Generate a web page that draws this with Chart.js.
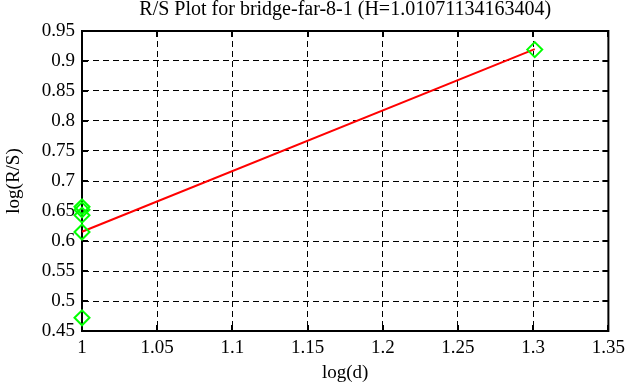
<!DOCTYPE html>
<html>
<head>
<meta charset="utf-8">
<script src="https://cdn.jsdelivr.net/npm/chart.js@4/dist/chart.umd.min.js"></script>
<style>
  html, body { margin: 0; padding: 0; background: #ffffff; }
  #wrap { width: 631px; height: 387px; }
</style>
</head>
<body>
<div id="wrap"><canvas id="c" width="631" height="387"></canvas></div>
<script>
// ---- data ----
const titleText = 'R/S Plot for bridge-far-8-1 (H=1.01071134163404)';
const logD  = [1, 1, 1, 1, 1, 1.30103];
const logRS = [0.657, 0.652, 0.643, 0.615, 0.472, 0.919];
const fitX  = [1, 1.30103];
const fitY  = [0.6155, 0.9197];
const xTicks = [1, 1.05, 1.1, 1.15, 1.2, 1.25, 1.3, 1.35];
const yTicks = [0.45, 0.5, 0.55, 0.6, 0.65, 0.7, 0.75, 0.8, 0.85, 0.9, 0.95];
const xTickLabels = ['1', '1.05', '1.1', '1.15', '1.2', '1.25', '1.3', '1.35'];
const yTickLabels = ['0.45', '0.5', '0.55', '0.6', '0.65', '0.7', '0.75', '0.8', '0.85', '0.9', '0.95'];

const FONT = 'Liberation Serif, Times New Roman, serif';

const points = logD.map((x, i) => ({ x: x, y: logRS[i] }));
const fitLine = fitX.map((x, i) => ({ x: x, y: fitY[i] }));

const frame = {
  id: 'frame',
  beforeDatasetsDraw(chart) {
    const { ctx, chartArea: a, scales } = chart;
    ctx.save();
    ctx.strokeStyle = '#000';
    ctx.lineWidth = 2;
    ctx.strokeRect(a.left, a.top, a.right - a.left, a.bottom - a.top);
    const L = 6;
    ctx.beginPath();
    yTicks.forEach(v => {
      const y = Math.round(scales.y.getPixelForValue(v));
      ctx.moveTo(a.left, y); ctx.lineTo(a.left + L, y);
      ctx.moveTo(a.right, y); ctx.lineTo(a.right - L, y);
    });
    xTicks.forEach(v => {
      const x = Math.round(scales.x.getPixelForValue(v));
      ctx.moveTo(x, a.top); ctx.lineTo(x, a.top + L);
      ctx.moveTo(x, a.bottom); ctx.lineTo(x, a.bottom - L);
    });
    ctx.stroke();
    ctx.restore();
  }
};

new Chart(document.getElementById('c'), {
  type: 'scatter',
  data: {
    datasets: [
      {
        type: 'line',
        data: fitLine,
        borderColor: '#ff0000',
        borderWidth: 2,
        pointRadius: 0,
        fill: false,
        tension: 0,
        clip: false,
        order: 2
      },
      {
        data: points,
        pointStyle: 'rectRot',
        pointRadius: 7.5,
        pointBorderColor: '#00ff00',
        pointBackgroundColor: 'rgba(0,0,0,0)',
        pointBorderWidth: 2,
        showLine: false,
        clip: false,
        order: 1
      }
    ]
  },
  options: {
    responsive: false,
    animation: false,
    devicePixelRatio: 1,
    layout: { padding: { left: 0, right: 21, top: 0, bottom: 0 } },
    plugins: {
      legend: { display: false },
      tooltip: { enabled: false },
      title: {
        display: true,
        fullSize: false,
        text: titleText,
        color: '#000',
        font: { family: FONT, size: 20, weight: 'normal', lineHeight: 1.0 },
        padding: { top: 0, bottom: 11 }
      }
    },
    scales: {
      x: {
        type: 'linear',
        min: 1,
        max: 1.35,
        afterBuildTicks(s) { s.ticks = xTicks.map(v => ({ value: v })); },
        afterFit(s) { s.height = 56; },
        ticks: {
          color: '#000',
          font: { family: FONT, size: 19 },
          padding: 6,
          maxRotation: 0,
          callback: (v, i) => xTickLabels[i]
        },
        grid: {
          color: '#000',
          lineWidth: 1,
          drawTicks: false,
          tickLength: 0
        },
        border: { display: true, color: '#000', width: 2, dash: [6, 4] },
        title: {
          display: true,
          text: 'log(d)',
          color: '#000',
          font: { family: FONT, size: 19, lineHeight: 1.2 },
          padding: { top: 0, bottom: 3 }
        }
      },
      y: {
        type: 'linear',
        min: 0.45,
        max: 0.95,
        afterBuildTicks(s) { s.ticks = yTicks.map(v => ({ value: v })); },
        afterFit(s) { s.width = 82; },
        ticks: {
          color: '#000',
          font: { family: FONT, size: 19 },
          padding: 7,
          callback: (v, i) => yTickLabels[i]
        },
        grid: {
          color: '#000',
          lineWidth: 1,
          drawTicks: false,
          tickLength: 0
        },
        border: { display: true, color: '#000', width: 2, dash: [6, 4] },
        title: {
          display: true,
          text: 'log(R/S)',
          color: '#000',
          font: { family: FONT, size: 19, lineHeight: 1.2 },
          padding: { top: 3, bottom: 0 }
        }
      }
    }
  },
  plugins: [frame]
});
</script>
</body>
</html>
